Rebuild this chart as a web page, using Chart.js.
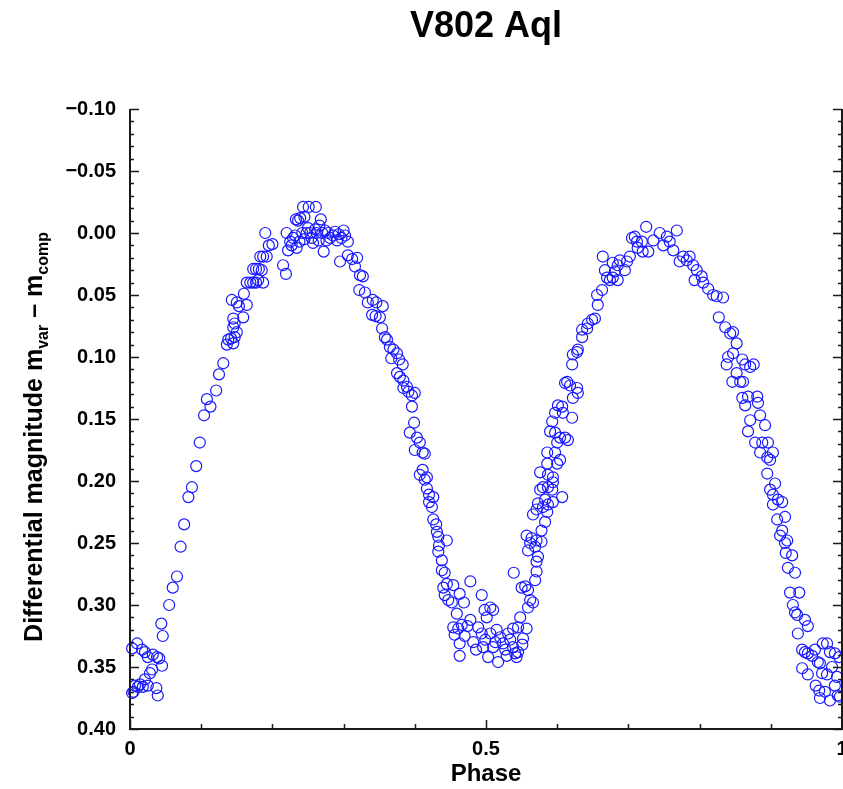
<!DOCTYPE html>
<html>
<head>
<meta charset="utf-8">
<title>V802 Aql</title>
<script src="https://cdn.jsdelivr.net/npm/chart.js@4.4.0/dist/chart.umd.min.js"></script>
<style>
    body { margin: 0; background: #fff; }
    #wrap { width: 843px; height: 789px; }
</style>
</head>
<body>
<div id="wrap"><canvas id="graph1" width="843" height="789"></canvas></div>
<script>

// [phase, differential magnitude], branch by branch
const min_a = [
    [0.003,0.335],[0.010,0.331],[0.017,0.336],[0.021,0.338],[0.025,0.342],[0.032,0.340],[0.038,0.342],
    [0.041,0.343],[0.045,0.349],[0.031,0.352],[0.028,0.355],[0.021,0.360],[0.014,0.364],[0.007,0.365],
    [0.003,0.371],[0.005,0.370],[0.011,0.366],[0.018,0.366],[0.025,0.365],[0.037,0.367],[0.039,0.373],
    [0.046,0.325],[0.044,0.315],[0.055,0.300],[0.060,0.286],[0.066,0.277]
];
const rise_a = [
    [0.071,0.253],[0.076,0.235],[0.082,0.213],[0.087,0.205],[0.093,0.188],[0.098,0.169],[0.104,0.147],
    [0.108,0.134],[0.113,0.140],[0.121,0.127],[0.125,0.114],[0.131,0.105],[0.136,0.090],[0.138,0.086],
    [0.142,0.085],[0.145,0.089],[0.147,0.084],[0.150,0.080],[0.145,0.076],[0.147,0.073],[0.145,0.069],
    [0.159,0.068],[0.143,0.054],[0.150,0.056],[0.153,0.059],[0.164,0.058],[0.160,0.049],[0.164,0.040],
    [0.169,0.040],[0.173,0.040],[0.177,0.040],[0.180,0.038],[0.187,0.040],[0.173,0.029],[0.177,0.029],
    [0.181,0.029],[0.183,0.019],[0.187,0.019],[0.192,0.019],[0.195,0.010],[0.190,0.000],[0.185,0.030],
    [0.200,0.009]
];
const max_a = [
    [0.215,0.026],[0.219,0.033],[0.220,0.000],[0.222,0.014],[0.225,0.007],[0.229,0.004],[0.234,0.012],
    [0.236,-0.010],[0.233,-0.011],[0.239,-0.012],[0.243,-0.021],[0.251,-0.021],[0.261,-0.021],[0.242,0.000],
    [0.248,0.000],[0.253,0.000],[0.257,0.008],[0.262,0.000],[0.268,-0.011],[0.270,0.000],[0.274,-0.002],
    [0.272,0.015],[0.278,0.000],[0.281,0.004],[0.285,0.002],[0.291,0.006],[0.297,0.004],[0.302,0.002],
    [0.306,0.007],[0.295,0.023],[0.306,0.018],[0.312,0.021],[0.319,0.020],[0.316,0.027],[0.245,0.005],
    [0.250,-0.004],[0.255,0.004],[0.260,-0.003],[0.265,0.006],[0.276,0.006],[0.288,-0.001],[0.293,0.001],
    [0.300,-0.002],[0.227,0.010],[0.232,0.002],[0.238,0.007],[0.266,-0.006],[0.245,-0.013]
];
const fall_a = [
    [0.323,0.034],[0.327,0.035],[0.322,0.046],[0.330,0.048],[0.334,0.056],[0.341,0.054],[0.346,0.056],
    [0.355,0.059],[0.340,0.066],[0.345,0.067],[0.351,0.068],[0.354,0.077],[0.358,0.084],[0.361,0.086],
    [0.365,0.092],[0.370,0.094],[0.375,0.097],[0.367,0.101],[0.378,0.102],[0.383,0.106],[0.375,0.113],
    [0.379,0.116],[0.384,0.119],[0.384,0.125],[0.389,0.124],[0.391,0.128],[0.396,0.131],[0.400,0.129],
    [0.396,0.140],[0.399,0.153],[0.393,0.161],[0.403,0.165],[0.407,0.169],[0.400,0.175],[0.411,0.177],
    [0.414,0.178],[0.411,0.191],[0.407,0.195],[0.417,0.197],[0.414,0.199],[0.417,0.206],[0.420,0.211],
    [0.426,0.213],[0.420,0.217],[0.424,0.221],[0.426,0.231],[0.430,0.235],[0.431,0.241],[0.433,0.245],
    [0.445,0.248],[0.434,0.252],[0.433,0.257],[0.438,0.264],[0.438,0.272],[0.442,0.274],[0.445,0.283],
    [0.440,0.286],[0.454,0.284],[0.442,0.292],[0.447,0.296],[0.452,0.298]
];
const min_b = [
    [0.478,0.281],[0.463,0.291],[0.469,0.298],[0.494,0.292],[0.459,0.307],[0.454,0.318],[0.461,0.319],
    [0.466,0.316],[0.456,0.324],[0.463,0.331],[0.463,0.341],[0.478,0.312],[0.482,0.330],[0.489,0.318],
    [0.498,0.304],[0.506,0.302],[0.510,0.304],[0.501,0.310],[0.494,0.323],[0.499,0.328],[0.496,0.334],
    [0.506,0.323],[0.510,0.334],[0.503,0.342],[0.515,0.320],[0.520,0.326],[0.517,0.346],[0.524,0.331],
    [0.527,0.336],[0.531,0.323],[0.534,0.328],[0.538,0.334],[0.541,0.339],[0.545,0.338],[0.543,0.342],
    [0.538,0.319],[0.545,0.318],[0.548,0.310],[0.552,0.327],[0.557,0.319],[0.551,0.332],[0.539,0.274],
    [0.470,0.325],[0.486,0.336],[0.513,0.330],[0.529,0.341],[0.474,0.317]
];
const rise_b = [
    [0.550,0.286],[0.555,0.285],[0.559,0.288],[0.562,0.296],[0.559,0.302],[0.566,0.298],[0.569,0.280],
    [0.571,0.273],[0.571,0.265],[0.573,0.261],[0.578,0.249],[0.559,0.256],[0.562,0.250],[0.557,0.244],
    [0.564,0.246],[0.571,0.248],[0.569,0.253],[0.578,0.240],[0.583,0.233],[0.566,0.227],[0.571,0.223],
    [0.573,0.218],[0.580,0.221],[0.586,0.225],[0.587,0.219],[0.583,0.215],[0.594,0.217],[0.607,0.213],
    [0.576,0.207],[0.580,0.205],[0.587,0.205],[0.593,0.207],[0.594,0.201],[0.576,0.193],[0.587,0.195],
    [0.594,0.197],[0.586,0.186],[0.600,0.186],[0.604,0.183],[0.586,0.177],[0.597,0.177],[0.590,0.160],
    [0.597,0.161],[0.604,0.165],[0.611,0.165],[0.600,0.169],[0.615,0.167],[0.593,0.152],[0.597,0.145],
    [0.601,0.139],[0.607,0.140],[0.608,0.145],[0.621,0.149],[0.611,0.121],[0.622,0.133],[0.629,0.129],
    [0.628,0.125],[0.614,0.120],[0.618,0.123],[0.621,0.106],[0.622,0.098],[0.628,0.096],[0.629,0.094],
    [0.635,0.084],[0.635,0.078],[0.642,0.077],[0.643,0.073],[0.649,0.070],[0.653,0.069],[0.657,0.058],
    [0.656,0.050],[0.663,0.046],[0.674,0.038],[0.670,0.036],[0.678,0.036],[0.685,0.038],[0.667,0.030],
    [0.681,0.031],[0.685,0.026],[0.664,0.019],[0.678,0.024],[0.688,0.022],[0.695,0.030],[0.698,0.023],
    [0.702,0.019]
];
const max_b = [
    [0.705,0.004],[0.709,0.003],[0.712,0.007],[0.713,0.012],[0.719,0.007],[0.720,0.015],[0.728,0.015],
    [0.725,-0.005],[0.735,0.006],[0.744,0.000],[0.749,0.010],[0.754,0.003],[0.758,0.007],[0.763,0.014],
    [0.768,-0.002],[0.772,0.023],[0.777,0.019],[0.782,0.022],[0.786,0.019],[0.791,0.026],[0.796,0.030],
    [0.793,0.038],[0.803,0.035],[0.805,0.040],[0.812,0.045],[0.819,0.050],[0.824,0.051],[0.833,0.052]
];
const fall_b = [
    [0.827,0.068],[0.836,0.076],[0.843,0.081],[0.847,0.080],[0.852,0.089],[0.847,0.097],[0.840,0.100],
    [0.838,0.106],[0.860,0.102],[0.864,0.106],[0.871,0.108],[0.876,0.106],[0.852,0.113],[0.846,0.120],
    [0.857,0.120],[0.861,0.120],[0.860,0.133],[0.868,0.132],[0.881,0.132],[0.864,0.139],[0.882,0.137],
    [0.871,0.151],[0.885,0.147],[0.892,0.155],[0.868,0.160],[0.878,0.169],[0.888,0.169],[0.896,0.169],
    [0.903,0.177],[0.885,0.177],[0.895,0.181],[0.899,0.183],[0.895,0.194],[0.906,0.202],[0.899,0.207],
    [0.903,0.211],[0.910,0.215],[0.916,0.217],[0.903,0.219],[0.920,0.229],[0.909,0.231],[0.916,0.240],
    [0.913,0.244],[0.923,0.248],[0.920,0.250],[0.921,0.258],[0.930,0.260],[0.924,0.270],[0.934,0.274],
    [0.927,0.290],[0.940,0.290],[0.931,0.300],[0.934,0.306],[0.937,0.308],[0.948,0.312],[0.952,0.317],
    [0.938,0.323]
];
const min_a_end = [
    [0.944,0.336],[0.948,0.338],[0.952,0.339],[0.958,0.341],[0.962,0.336],[0.966,0.346],[0.973,0.331],
    [0.979,0.331],[0.983,0.338],[0.990,0.339],[0.996,0.342],[0.944,0.351],[0.952,0.356],[0.969,0.347],
    [0.972,0.355],[0.979,0.356],[0.986,0.350],[0.993,0.358],[0.963,0.365],[0.968,0.369],[0.976,0.370],
    [0.969,0.375],[0.983,0.377],[0.990,0.365],[0.994,0.373],[0.997,0.374]
];

// axes
const x_ticks   = [0, 0.5, 1];
const x_minor   = 0.1;
const y_min     = -0.10;
const y_max     = 0.40;
const y_step    = 0.05;
const y_minor   = 0.01;

const FONT = '"Liberation Sans", Arial, Helvetica, sans-serif';


window.addEventListener("load", function () {
    draw_chart();
});


// frame, inward ticks and all the titles (the y title needs subscripts)
const frame_plugin = {
    id: "frame_plugin",
    afterDraw(chart) {
        const ctx = chart.ctx;
        const a   = chart.chartArea;
        const xs  = chart.scales.x;
        const ys  = chart.scales.y;

        ctx.save();
        ctx.strokeStyle = "#1a1a1a";
        ctx.lineWidth = 2;
        ctx.beginPath();
        ctx.moveTo(a.left, a.top);
        ctx.lineTo(a.left, a.bottom);
        ctx.lineTo(a.right, a.bottom);
        ctx.lineTo(a.right, a.top);
        ctx.stroke();

        ctx.lineWidth = 1.5;
        ctx.beginPath();
        const n_y = Math.round((y_max - y_min) / y_minor);
        for (let i = 0; i <= n_y; i++) {
            const y   = Math.round(ys.getPixelForValue(y_min + i * y_minor)) + 0.5;
            const len = (i % 5 === 0) ? 9 : 4;
            ctx.moveTo(a.left, y);  ctx.lineTo(a.left + len, y);
            ctx.moveTo(a.right, y); ctx.lineTo(a.right - len, y);
        }
        const n_x = Math.round(1 / x_minor);
        for (let i = 0; i <= n_x; i++) {
            const x   = Math.round(xs.getPixelForValue(i * x_minor)) + 0.5;
            const len = (i % 5 === 0) ? 9 : 5;
            ctx.moveTo(x, a.bottom); ctx.lineTo(x, a.bottom - len);
        }
        ctx.stroke();

        ctx.fillStyle = "#000";
        ctx.textAlign = "center";
        ctx.textBaseline = "alphabetic";
        ctx.font = "bold 36px " + FONT;
        ctx.fillText("V802 Aql", (a.left + a.right) / 2, 37);

        ctx.font = "bold 24px " + FONT;
        ctx.fillText("Phase", (a.left + a.right) / 2, 781);

        // y title, rotated, with subscripts
        const parts = [
            ["Differential magnitude m", false],
            ["var", true],
            [" \u2013 m", false],
            ["comp", true]
        ];
        const big = "bold 25px " + FONT;
        const small = "bold 16px " + FONT;
        let total = 0;
        for (let p of parts) {
            ctx.font = p[1] ? small : big;
            total += ctx.measureText(p[0]).width;
        }
        ctx.translate(42, 437);
        ctx.rotate(-Math.PI / 2);
        ctx.textAlign = "left";
        let pos = -total / 2;
        for (let p of parts) {
            ctx.font = p[1] ? small : big;
            ctx.fillText(p[0], pos, p[1] ? 6 : 0);
            pos += ctx.measureText(p[0]).width;
        }
        ctx.restore();
    }
};


function draw_chart(){

    const all = [].concat(min_a, rise_a, max_a, fall_a, min_b, rise_b, max_b, fall_b, min_a_end);
    const points = all.map(p => ({ x: p[0], y: p[1] }));

    const ctx = document.getElementById("graph1").getContext('2d');
    const myChart = new Chart(ctx, {
        type: 'scatter',
        data: {
            datasets: [{
                data: points,
                pointStyle: 'circle',
                pointRadius: 5.5,
                pointHoverRadius: 5.5,
                borderWidth: 1.2,
                borderColor: 'rgb(25,25,255)',
                backgroundColor: 'rgba(0,0,0,0)',
                clip: 10,
            }]
        },
        options: {
            responsive: false,
            animation: false,
            layout: {
                autoPadding: false,
                padding: { top: 109, right: 1, left: 0, bottom: 0 }
            },
            plugins: {
                legend: { display: false },
                tooltip: { enabled: false },
            },
            scales: {
                x: {
                    type: 'linear',
                    min: 0,
                    max: 1,
                    afterBuildTicks: (scale) => {
                        scale.ticks = x_ticks.map(v => ({ value: v }));
                    },
                    afterFit: (scale) => {
                        scale.height = 60;
                        scale.paddingLeft = 0;
                        scale.paddingRight = 0;
                    },
                    grid: { display: false, drawTicks: false },
                    border: { display: false },
                    ticks: {
                        padding: 8,
                        color: '#000',
                        maxRotation: 0,
                        autoSkip: false,
                        font: { family: FONT, weight: 'bold', size: 20 },
                        callback: (v) => String(v),
                    },
                },
                y: {
                    type: 'linear',
                    reverse: true,
                    min: y_min,
                    max: y_max,
                    afterFit: (scale) => {
                        scale.width = 130;
                        scale.paddingTop = 0;
                        scale.paddingBottom = 0;
                    },
                    grid: { display: false, drawTicks: false },
                    border: { display: false },
                    ticks: {
                        stepSize: y_step,
                        padding: 14,
                        color: '#000',
                        autoSkip: false,
                        font: { family: FONT, weight: 'bold', size: 20 },
                        callback: (v) => {
                            const s = Math.abs(v).toFixed(2);
                            return (v < -1e-9) ? '\u2212' + s : s;
                        },
                    },
                }
            }
        },
        plugins: [frame_plugin]
    });
}

</script>
</body>
</html>
